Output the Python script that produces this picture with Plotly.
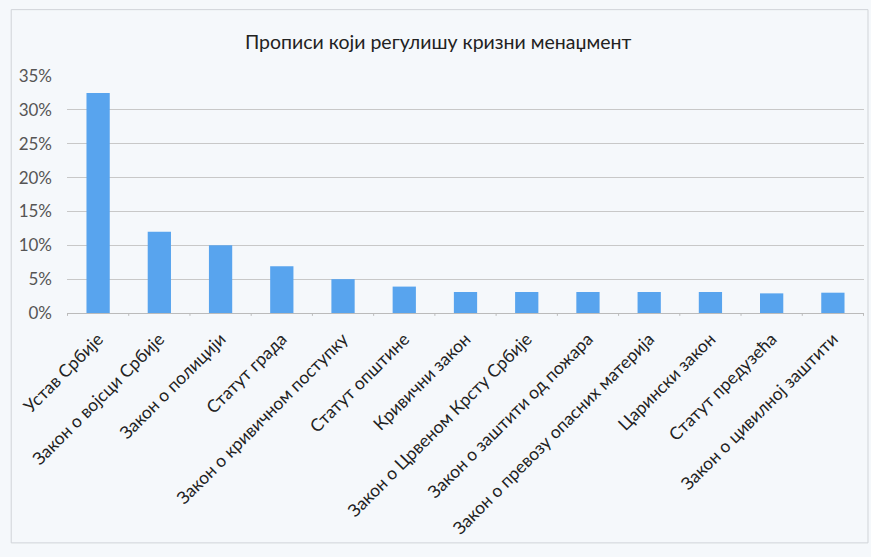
import plotly.graph_objects as go

categories = ["Устав Србије", "Закон о војсци Србије", "Закон о полицији", "Статут града",
              "Закон о кривичном поступку", "Статут општине", "Кривични закон",
              "Закон о Црвеном Крсту Србије", "Закон о заштити од пожара",
              "Закон о превозу опасних материја", "Царински закон", "Статут предузећа",
              "Закон о цивилној заштити"]
values = [0.325, 0.12, 0.10, 0.069, 0.05, 0.039, 0.031, 0.031, 0.031, 0.031, 0.031, 0.029, 0.030]
y_ticks = [0, 0.05, 0.10, 0.15, 0.20, 0.25, 0.30, 0.35]

fig = go.Figure(go.Bar(x=categories, y=values, marker=dict(color="#58a4ee", line=dict(width=0)),
                       width=0.38))

fig.update_layout(
    width=871, height=557,
    paper_bgcolor="#f5f8fb", plot_bgcolor="#f5f8fb",
    margin=dict(l=67, r=7, t=76, b=244),
    title=dict(text="Прописи који регулишу кризни менаџмент", x=0.503, xanchor="center",
               y=1 - 42 / 557, yanchor="middle",
               font=dict(family="Lato, Open Sans, sans-serif", size=19.5, color="#222")),
    font=dict(family="Lato, Open Sans, sans-serif", size=14, color="#555"),
    showlegend=False,
    bargap=0.62,
)
fig.update_yaxes(range=[0, 0.35], tickvals=y_ticks, tickformat=".0%",
                 showgrid=True, gridcolor="#c8c8c8", gridwidth=1, zeroline=False,
                 showline=False, ticks="", ticklabelstandoff=14,
                 tickfont=dict(size=17, color="#555"))
fig.update_xaxes(tickangle=-45, showline=True, linecolor="#bbbbbb", linewidth=1,
                 ticks="", tickfont=dict(size=17.5, color="#222"), showgrid=False,
                 ticklabelstandoff=8)

# category-boundary tick marks below axis
for i in range(len(categories) + 1):
    fig.add_shape(type="line", xref="x", yref="paper", x0=i - 0.5, x1=i - 0.5, y0=0, y1=-0.012,
                  line=dict(color="#bbbbbb", width=1))

fig.add_shape(type="rect", xref="paper", yref="paper", x0=-0.07, x1=1.005, y0=-0.97, y1=1.28,
              line=dict(color="#d0d4d8", width=1))

fig.write_html("out.html")
